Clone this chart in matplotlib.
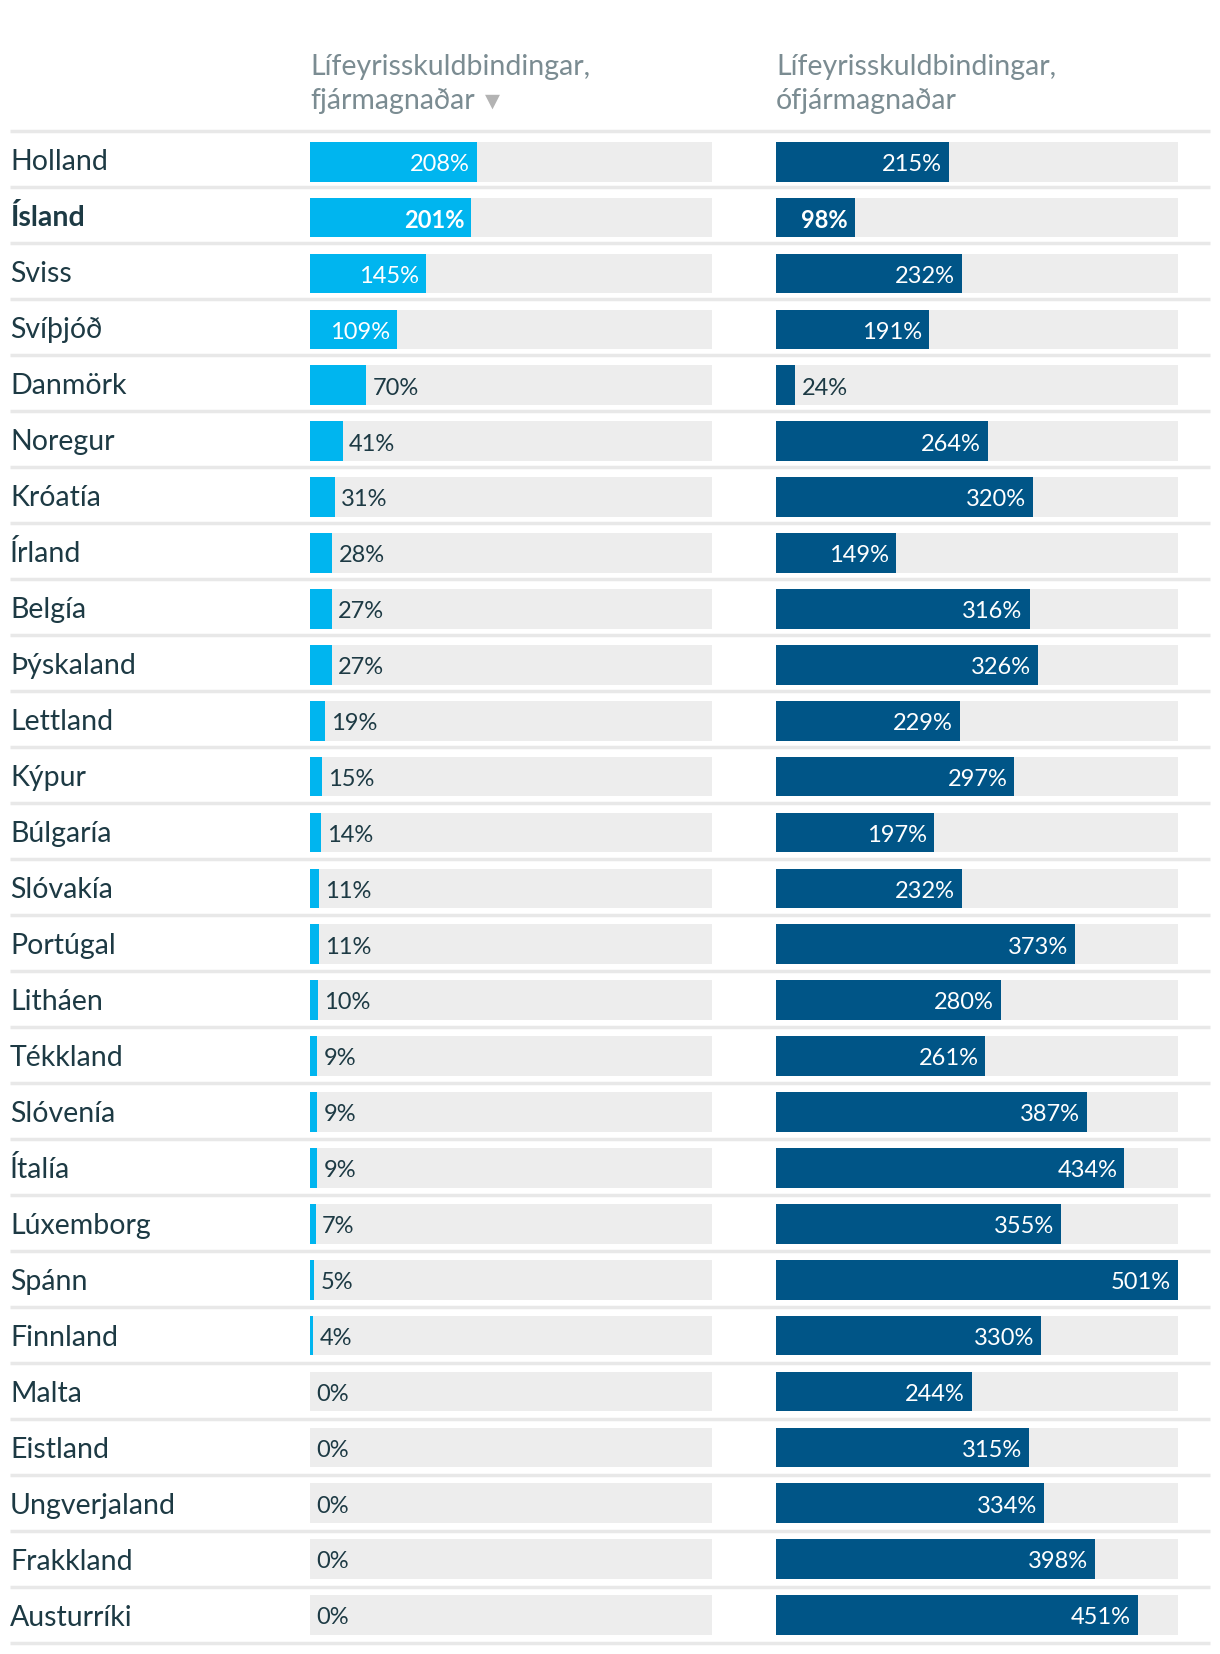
import matplotlib.pyplot as plt

countries = ["Holland", "Ísland", "Sviss", "Svíþjóð", "Danmörk", "Noregur", "Króatía",
             "Írland", "Belgía", "Þýskaland", "Lettland", "Kýpur", "Búlgaría", "Slóvakía",
             "Portúgal", "Litháen", "Tékkland", "Slóvenía", "Ítalía", "Lúxemborg", "Spánn",
             "Finnland", "Malta", "Eistland", "Ungverjaland", "Frakkland", "Austurríki"]
funded = [208, 201, 145, 109, 70, 41, 31, 28, 27, 27, 19, 15, 14, 11, 11, 10, 9, 9, 9,
          7, 5, 4, 0, 0, 0, 0, 0]
unfunded = [215, 98, 232, 191, 24, 264, 320, 149, 316, 326, 229, 297, 197, 232, 373, 280,
            261, 387, 434, 355, 501, 330, 244, 315, 334, 398, 451]
headers = ["Lífeyrisskuldbindingar,\nfjármagnaðar", "Lífeyrisskuldbindingar,\nófjármagnaðar"]
highlight = "Ísland"

XMAX = 501
W, H = 1220, 1654
TOP, ROW = 131, 56          # pixel layout of the table
N = len(countries)

LIGHT = "#00b5ef"
DARK = "#005587"
TRACK = "#ededed"
TXT = "#1d3a44"
GREY = "#7b8c92"
FONT = ["Lato", "DejaVu Sans"]

plt.rcParams["font.family"] = FONT

fig = plt.figure(figsize=(W / 100, H / 100), dpi=100)
bg = fig.add_axes([0, 0, 1, 1])
bg.set_xlim(0, W)
bg.set_ylim(H, 0)
bg.axis("off")

# separators
for i in range(N + 1):
    y = TOP + i * ROW
    bg.plot([10, 1210], [y, y], color="#e8e8e8", lw=2.5, solid_capstyle="butt")

# country names
for i, c in enumerate(countries):
    bg.text(10, TOP + (i + 0.5) * ROW + 3, c, fontsize=20.5, color=TXT, va="center", ha="left",
            fontweight="bold" if c == highlight else "normal")

def panel(x0, x1, vals, color, header, arrow):
    ax = fig.add_axes([x0 / W, 1 - (TOP + N * ROW) / H, (x1 - x0) / W, N * ROW / H])
    ax.set_xlim(0, XMAX)
    ax.set_ylim(N - 0.5, -0.55)
    ax.axis("off")
    ys = range(N)
    ax.barh(ys, [XMAX] * N, height=0.71, color=TRACK)
    ax.barh(ys, vals, height=0.71, color=color)
    for i, v in enumerate(vals):
        bold = "bold" if countries[i] == highlight else "normal"
        if v >= 90:
            ax.annotate(f"{v}%", (v, i), xytext=(-5, -2), textcoords="offset points",
                        ha="right", va="center", color="white", fontsize=17, fontweight=bold)
        else:
            ax.annotate(f"{v}%", (v, i), xytext=(4.5, -2), textcoords="offset points",
                        ha="left", va="center", color=TXT, fontsize=17, fontweight=bold)
    l1, l2 = header.split("\n")
    bg.text(x0, 67, l1, fontsize=20.5, color=GREY, va="center", ha="left")
    t = bg.text(x0, 101, l2, fontsize=20.5, color=GREY, va="center", ha="left")
    if arrow:
        fig.canvas.draw()
        bb = t.get_window_extent()
        bg.text(bb.x1 + 10, 101, "▼", fontsize=14, color="#b3b3b3", va="center", ha="left",
                family=FONT)

panel(310, 712, funded, LIGHT, headers[0], True)
panel(776, 1178, unfunded, DARK, headers[1], False)

fig.savefig("out.png", dpi=100)
